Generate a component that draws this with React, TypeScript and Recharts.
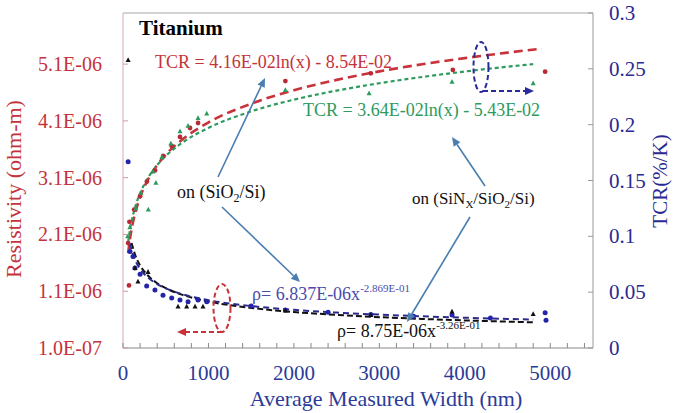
import React from 'react';
import { ComposedChart, Line, Scatter, XAxis, YAxis, ReferenceLine } from 'recharts';

// ---------- data ----------
const xTicks = [0, 200, 400, 600, 800, 1000, 1200, 1400, 1600, 1800, 2000, 2200, 2400, 2600, 2800, 3000, 3200, 3400, 3600, 3800, 4000, 4200, 4400, 4600, 4800, 5000, 5200, 5400];
const xMajorLabels = ['0', '1000', '2000', '3000', '4000', '5000'];
const leftTicks = [1.0e-7, 1.1e-6, 2.1e-6, 3.1e-6, 4.1e-6, 5.1e-6];
const leftTickLabels = ['1.0E-07', '1.1E-06', '2.1E-06', '3.1E-06', '4.1E-06', '5.1E-06'];
const rightTicks = [0, 0.05, 0.1, 0.15, 0.2, 0.25, 0.3];
const rightTickLabels = ['0', '0.05', '0.1', '0.15', '0.2', '0.25', '0.3'];

// TCR on SiO2/Si (red circles, right axis)
const tcrSiO2 = [
  { x: 70, y: 0.056 }, { x: 60, y: 0.094 }, { x: 75, y: 0.113 }, { x: 130, y: 0.124 },
  { x: 200, y: 0.136 }, { x: 280, y: 0.149 }, { x: 375, y: 0.159 }, { x: 470, y: 0.172 },
  { x: 570, y: 0.181 }, { x: 667, y: 0.189 }, { x: 784, y: 0.197 }, { x: 878, y: 0.2015 },
  { x: 1900, y: 0.239 }, { x: 2900, y: 0.246 }, { x: 3860, y: 0.249 }, { x: 4940, y: 0.2475 },
];
// TCR on SiNx/SiO2/Si (green triangles, right axis)
const tcrSiNx = [
  { x: 55, y: 0.100 }, { x: 80, y: 0.108 }, { x: 150, y: 0.125 }, { x: 210, y: 0.139 },
  { x: 296, y: 0.124 }, { x: 385, y: 0.148 }, { x: 350, y: 0.158 }, { x: 455, y: 0.171 },
  { x: 560, y: 0.183 }, { x: 667, y: 0.194 }, { x: 761, y: 0.199 }, { x: 878, y: 0.206 },
  { x: 980, y: 0.210 }, { x: 1900, y: 0.231 }, { x: 2880, y: 0.228 }, { x: 3850, y: 0.2385 },
  { x: 4800, y: 0.237 },
];
// Resistivity (blue circles, left axis)
const rhoBlue = [
  { x: 60, y: 3.38e-6 }, { x: 82, y: 1.80e-6 }, { x: 117, y: 1.71e-6 }, { x: 140, y: 1.51e-6 },
  { x: 200, y: 1.40e-6 }, { x: 277, y: 1.19e-6 }, { x: 374, y: 1.12e-6 }, { x: 468, y: 1.03e-6 },
  { x: 570, y: 0.98e-6 }, { x: 667, y: 0.945e-6 }, { x: 761, y: 0.915e-6 }, { x: 878, y: 0.945e-6 },
  { x: 980, y: 0.915e-6 }, { x: 1500, y: 0.84e-6 }, { x: 1900, y: 0.77e-6 }, { x: 2400, y: 0.73e-6 },
  { x: 2900, y: 0.69e-6 }, { x: 3400, y: 0.66e-6 }, { x: 3850, y: 0.68e-6 }, { x: 4300, y: 0.63e-6 },
  { x: 4940, y: 0.72e-6 }, { x: 4950, y: 0.59e-6 },
];
// Resistivity (black triangles, left axis)
const rhoBlack = [
  { x: 60, y: 5.17e-6 }, { x: 140, y: 1.51e-6 }, { x: 175, y: 1.27e-6 }, { x: 293, y: 1.44e-6 },
  { x: 644, y: 0.83e-6 }, { x: 745, y: 0.83e-6 }, { x: 843, y: 0.83e-6 }, { x: 936, y: 0.83e-6 },
  { x: 1900, y: 0.76e-6 }, { x: 2900, y: 0.68e-6 }, { x: 3850, y: 0.74e-6 }, { x: 4800, y: 0.70e-6 },
];

// trend lines
const tcrSiO2Fit = [
  { x: 60, y: 0.0849 }, { x: 80, y: 0.0969 }, { x: 100, y: 0.1062 }, { x: 150, y: 0.1230 },
  { x: 200, y: 0.1350 }, { x: 300, y: 0.1519 }, { x: 400, y: 0.1638 }, { x: 500, y: 0.1731 },
  { x: 700, y: 0.1871 }, { x: 1000, y: 0.2020 }, { x: 1500, y: 0.2188 }, { x: 2000, y: 0.2308 },
  { x: 2500, y: 0.2401 }, { x: 3000, y: 0.2477 }, { x: 3500, y: 0.2541 }, { x: 4000, y: 0.2596 },
  { x: 4500, y: 0.2645 }, { x: 4900, y: 0.2681 },
];
const tcrSiNxFit = [
  { x: 60, y: 0.0947 }, { x: 80, y: 0.1052 }, { x: 100, y: 0.1133 }, { x: 150, y: 0.1281 },
  { x: 200, y: 0.1386 }, { x: 300, y: 0.1533 }, { x: 400, y: 0.1638 }, { x: 500, y: 0.1719 },
  { x: 700, y: 0.1842 }, { x: 1000, y: 0.1971 }, { x: 1500, y: 0.2119 }, { x: 2000, y: 0.2224 },
  { x: 2500, y: 0.2305 }, { x: 3000, y: 0.2371 }, { x: 3500, y: 0.2427 }, { x: 4000, y: 0.2476 },
  { x: 4500, y: 0.2519 }, { x: 4800, y: 0.2542 },
];
const rhoBlueFit = [
  { x: 80, y: 1.945e-6 }, { x: 100, y: 1.824e-6 }, { x: 150, y: 1.624e-6 }, { x: 200, y: 1.495e-6 },
  { x: 300, y: 1.331e-6 }, { x: 400, y: 1.226e-6 }, { x: 500, y: 1.150e-6 }, { x: 700, y: 1.044e-6 },
  { x: 1000, y: 0.942e-6 }, { x: 1500, y: 0.839e-6 }, { x: 2000, y: 0.772e-6 }, { x: 2500, y: 0.724e-6 },
  { x: 3000, y: 0.688e-6 }, { x: 3500, y: 0.658e-6 }, { x: 4000, y: 0.633e-6 }, { x: 4500, y: 0.612e-6 },
  { x: 4800, y: 0.601e-6 },
];
const rhoBlackFit = [
  { x: 100, y: 1.950e-6 }, { x: 150, y: 1.709e-6 }, { x: 200, y: 1.555e-6 }, { x: 300, y: 1.363e-6 },
  { x: 400, y: 1.241e-6 }, { x: 500, y: 1.154e-6 }, { x: 700, y: 1.034e-6 }, { x: 1000, y: 0.920e-6 },
  { x: 1500, y: 0.806e-6 }, { x: 2000, y: 0.734e-6 }, { x: 2500, y: 0.683e-6 }, { x: 3000, y: 0.643e-6 },
  { x: 3500, y: 0.612e-6 }, { x: 4000, y: 0.586e-6 }, { x: 4500, y: 0.564e-6 }, { x: 4800, y: 0.552e-6 },
];

// ---------- styles ----------
const FONT = '"Liberation Serif", "DejaVu Serif", serif';
const RED = '#c4333b';
const GREEN = '#2e9a5e';
const NAVY = '#2a2a92';
const XBLUE = '#2b3b98';
const ARROW = '#4a7db0';
const fs = (size: number, extra: any = {}) => ({ fontFamily: FONT, fontSize: size, ...extra });

const XTick = (props: any) => {
  const { x, y, payload } = props;
  const v = payload.value;
  const major = v % 1000 === 0;
  return (
    <g>
      <line x1={x} x2={x} y1={y} y2={y - 5} stroke="#888" strokeWidth={1} />
      {major && (
        <text x={x} y={y + 32} textAnchor="middle" fill={XBLUE} style={fs(21)}>
          {xMajorLabels[v / 1000]}
        </text>
      )}
    </g>
  );
};

const LeftTick = (props: any) => {
  const { x, y, index } = props;
  return (
    <g>
      <line x1={x} x2={x + 5} y1={y} y2={y} stroke="#c9a0a6" strokeWidth={1} />
      <text x={x - 21} y={y + 7} textAnchor="end" fill={RED} style={fs(20)}>
        {leftTickLabels[index]}
      </text>
    </g>
  );
};

const RightTick = (props: any) => {
  const { x, y, index } = props;
  return (
    <g>
      <line x1={x} x2={x - 5} y1={y} y2={y} stroke="#999" strokeWidth={1} />
      <text x={x + 16} y={y + 7} textAnchor="start" fill={NAVY} style={fs(21)}>
        {rightTickLabels[index]}
      </text>
    </g>
  );
};

const dotShape = (color: string, r: number) => (p: any) => (
  <circle cx={p.cx} cy={p.cy} r={r} fill={color} />
);
const triShape = (color: string, s: number) => (p: any) => (
  <polygon
    points={`${p.cx},${p.cy - s} ${p.cx - s * 0.9},${p.cy + s * 0.7} ${p.cx + s * 0.9},${p.cy + s * 0.7}`}
    fill={color}
  />
);

const Arrow = ({ x1, y1, x2, y2, color, dash, w = 1.6 }: any) => {
  const a = Math.atan2(y2 - y1, x2 - x1);
  const L = 9, W = 4;
  const bx = x2 - L * Math.cos(a);
  const by = y2 - L * Math.sin(a);
  const p1 = `${x2},${y2}`;
  const p2 = `${bx + W * Math.sin(a)},${by - W * Math.cos(a)}`;
  const p3 = `${bx - W * Math.sin(a)},${by + W * Math.cos(a)}`;
  return (
    <g>
      <line x1={x1} y1={y1} x2={bx} y2={by} stroke={color} strokeWidth={w} strokeDasharray={dash} />
      <polygon points={`${p1} ${p2} ${p3}`} fill={color} />
    </g>
  );
};

export default function App() {
  return (
    <div style={{ position: 'absolute', left: 0, top: 0, width: 673, height: 413, background: '#fff', fontFamily: FONT }}>
      <ComposedChart width={673} height={413} margin={{ top: 13, right: 0, bottom: 0, left: 0 }}>
        <XAxis
          type="number"
          dataKey="x"
          domain={[0, 5500]}
          ticks={xTicks}
          interval={0}
          allowDataOverflow
          height={65}
          stroke="#888"
          tickLine={false}
          tickSize={0}
          tickMargin={0}
          tick={<XTick />}
        />
        <YAxis
          yAxisId="left"
          orientation="left"
          dataKey="y"
          type="number"
          domain={[1.0e-7, 6.0e-6]}
          ticks={leftTicks}
          interval={0}
          allowDataOverflow
          width={123}
          stroke="#d4aab0"
          tickLine={false}
          tickSize={0}
          tickMargin={0}
          tick={<LeftTick />}
        />
        <YAxis
          yAxisId="right"
          orientation="right"
          dataKey="y"
          type="number"
          domain={[0, 0.3]}
          ticks={rightTicks}
          interval={0}
          allowDataOverflow
          width={80}
          stroke="#999"
          tickLine={false}
          tickSize={0}
          tickMargin={0}
          tick={<RightTick />}
        />
        <ReferenceLine yAxisId="right" y={0.3} stroke="#a8a8a8" strokeWidth={1.2} />

        <Scatter yAxisId="right" data={tcrSiO2} dataKey="y" isAnimationActive={false} shape={dotShape('#b82a35', 2.4)} />
        <Scatter yAxisId="right" data={tcrSiNx} dataKey="y" isAnimationActive={false} shape={triShape(GREEN, 2.8)} />
        <Scatter yAxisId="left" data={rhoBlue} dataKey="y" isAnimationActive={false} shape={dotShape('#2424a8', 2.5)} />
        <Scatter yAxisId="left" data={rhoBlack} dataKey="y" isAnimationActive={false} shape={triShape('#111', 2.8)} />

        <Line yAxisId="right" data={tcrSiO2Fit} dataKey="y" type="monotone" stroke="#c8323a" strokeWidth={2.6} strokeDasharray="9 5" dot={false} activeDot={false} isAnimationActive={false} />
        <Line yAxisId="right" data={tcrSiNxFit} dataKey="y" type="monotone" stroke={GREEN} strokeWidth={2.2} strokeDasharray="4 3" dot={false} activeDot={false} isAnimationActive={false} />
        <Line yAxisId="left" data={rhoBlackFit} dataKey="y" type="monotone" stroke="#111" strokeWidth={2} strokeDasharray="6 3" dot={false} activeDot={false} isAnimationActive={false} />
        <Line yAxisId="left" data={rhoBlueFit} dataKey="y" type="monotone" stroke="#2a2a8a" strokeWidth={2} strokeDasharray="6 4" dot={false} activeDot={false} isAnimationActive={false} />
      </ComposedChart>

      <svg
        width={673}
        height={413}
        style={{ position: 'absolute', left: 0, top: 0, pointerEvents: 'none', fontFamily: FONT }}
      >
        {/* axis titles */}
        <text x={21} y={189} transform="rotate(-90 21 189)" textAnchor="middle" fill={RED} style={fs(22)}>
          Resistivity (ohm-m)
        </text>
        <text x={667} y={181} transform="rotate(-90 667 181)" textAnchor="middle" fill={NAVY} style={fs(21)}>
          TCR(%/K)
        </text>
        <text x={386} y={406} textAnchor="middle" fill={XBLUE} style={fs(22)}>
          Average Measured Width (nm)
        </text>

        {/* title */}
        <text x={139} y={35} fill="#000" style={fs(21, { fontWeight: 'bold' })}>Titanium</text>

        {/* equations */}
        <text x={155} y={68} fill={RED} style={fs(18)}>TCR = 4.16E-02ln(x) - 8.54E-02</text>
        <text x={303} y={116} fill={GREEN} style={fs(18)}>TCR = 3.64E-02ln(x) - 5.43E-02</text>
        <text x={252} y={300} fill="#4b4bab" style={fs(18)}>
          ρ= 6.837E-06x<tspan dy={-8} style={fs(11)}>-2.869E-01</tspan>
        </text>
        <text x={337} y={337} fill="#111" style={fs(18)}>
          ρ= 8.75E-06x<tspan dy={-8} style={fs(11)}>-3.26E-01</tspan>
        </text>

        {/* substrate labels */}
        <text x={177} y={198} fill="#111" style={fs(18)}>
          on (SiO<tspan dy={4} style={fs(12)}>2</tspan><tspan dy={-4}>/Si)</tspan>
        </text>
        <text x={412} y={204} fill="#111" style={fs(17)}>
          on (SiN<tspan dy={4} style={fs(11)}>X</tspan><tspan dy={-4}>/SiO</tspan><tspan dy={4} style={fs(11)}>2</tspan><tspan dy={-4}>/Si)</tspan>
        </text>

        {/* pointer arrows */}
        <Arrow x1={218} y1={177} x2={265} y2={78} color={ARROW} />
        <Arrow x1={222} y1={207} x2={300} y2={282} color={ARROW} />
        <Arrow x1={485} y1={186} x2={452} y2={137} color={ARROW} />
        <Arrow x1={470} y1={217} x2={407} y2={322} color={ARROW} />

        {/* axis indicator ellipses */}
        <ellipse cx={222} cy={308} rx={8.5} ry={24} fill="none" stroke="#c8323a" strokeWidth={2} strokeDasharray="5 3" />
        <Arrow x1={222} y1={332} x2={177} y2={332} color="#c8323a" dash="5 3" w={2} />
        <ellipse cx={481} cy={67} rx={7.5} ry={25} fill="none" stroke="#2a2a9a" strokeWidth={2} strokeDasharray="5 3" />
        <Arrow x1={483} y1={91} x2={534} y2={91} color="#2a2a9a" dash="5 3" w={2} />
      </svg>
    </div>
  );
}
